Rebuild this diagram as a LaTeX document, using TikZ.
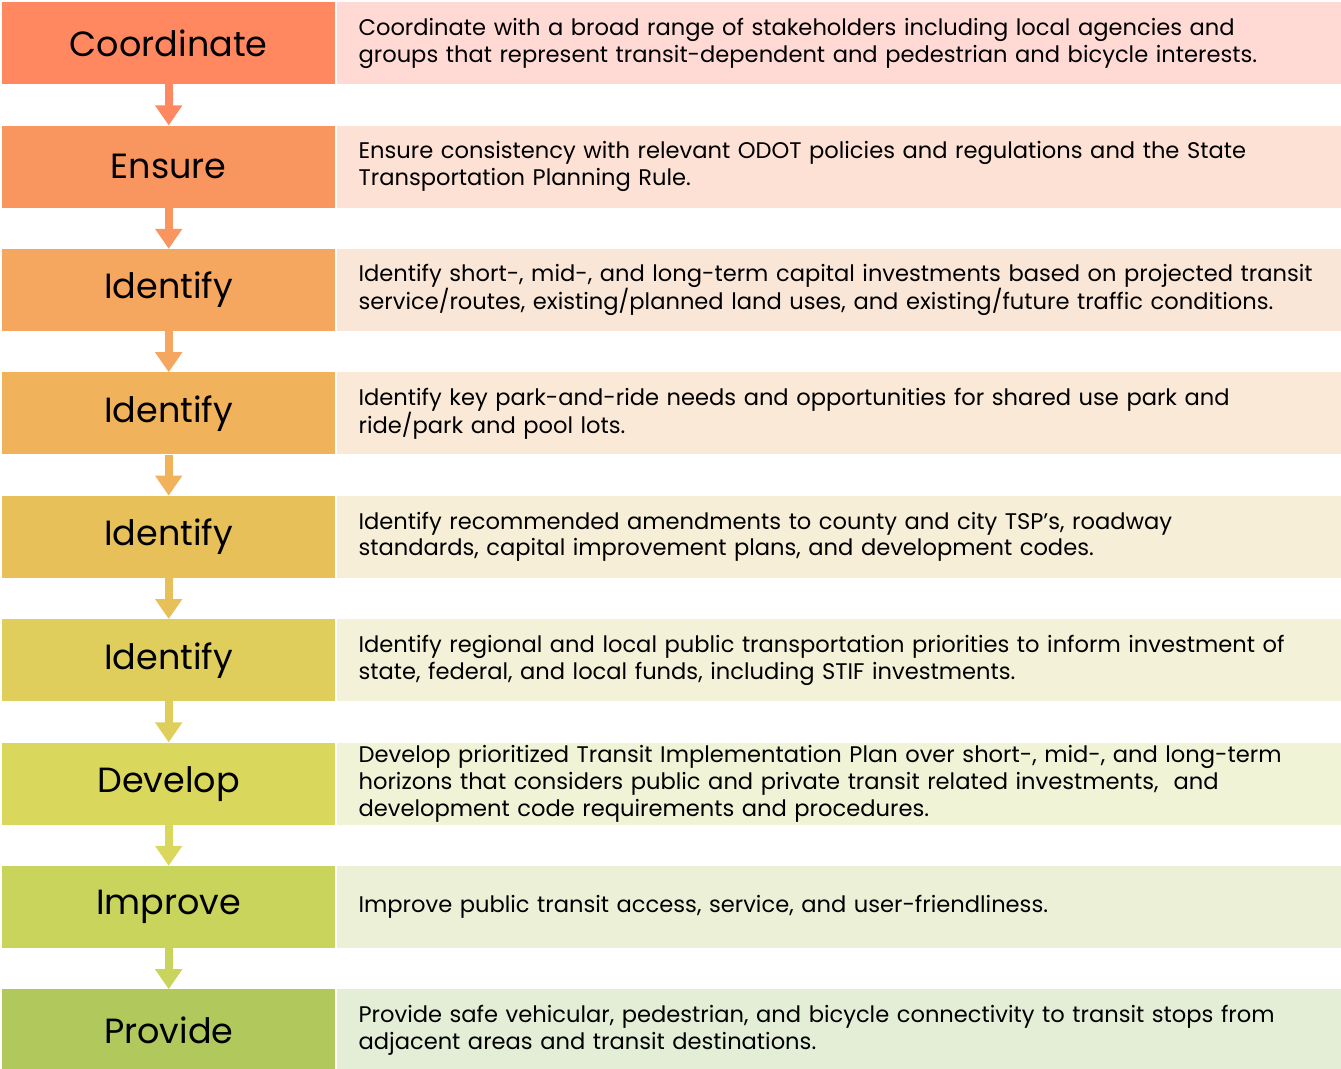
\documentclass[tikz,border=0pt]{standalone}
\usepackage{fontspec}
\setmainfont{Poppins}
\usetikzlibrary{positioning, arrows.meta}

\definecolor{stepA}{RGB}{255,136,97}
\definecolor{stepB}{RGB}{249,150,95}
\definecolor{stepC}{RGB}{245,166,95}
\definecolor{stepD}{RGB}{240,178,90}
\definecolor{stepE}{RGB}{232,192,90}
\definecolor{stepF}{RGB}{224,206,92}
\definecolor{stepG}{RGB}{218,216,92}
\definecolor{stepH}{RGB}{200,212,92}
\definecolor{stepI}{RGB}{176,200,92}
\definecolor{textA}{RGB}{255,218,213}
\definecolor{textB}{RGB}{252,225,212}
\definecolor{textC}{RGB}{250,230,215}
\definecolor{textD}{RGB}{250,233,215}
\definecolor{textE}{RGB}{246,238,215}
\definecolor{textF}{RGB}{243,241,215}
\definecolor{textG}{RGB}{240,243,213}
\definecolor{textH}{RGB}{236,240,214}
\definecolor{textI}{RGB}{228,237,213}

\begin{document}
\begin{tikzpicture}[
	stepbox/.style={rectangle, inner sep=0pt, minimum width=333pt, minimum height=82pt, font=\fontsize{35}{40}\selectfont},
	descbox/.style={rectangle, inner xsep=22pt, inner ysep=0pt, text width=961pt, minimum height=82pt, align=left, font=\fontsize{22.6}{26.8}\selectfont},
	flow/.style={line width=8pt, -{Triangle[width=26pt, length=20pt]}},
	>=LaTeX
]
\useasboundingbox (0,0) rectangle (1341pt,-1068pt);

\node[stepbox, fill=stepA, anchor=north west] (coordinate) at (2pt,-2pt) {Coordinate};
\node[stepbox, fill=stepB, below=41pt of coordinate] (ensure) {Ensure};
\node[stepbox, fill=stepC, below=41pt of ensure] (identify_a) {Identify};
\node[stepbox, fill=stepD, below=41pt of identify_a] (identify_b) {Identify};
\node[stepbox, fill=stepE, below=41pt of identify_b] (identify_c) {Identify};
\node[stepbox, fill=stepF, below=41pt of identify_c] (identify_d) {Identify};
\node[stepbox, fill=stepG, below=41pt of identify_d] (develop) {Develop};
\node[stepbox, fill=stepH, below=41pt of develop] (improve) {Improve};
\node[stepbox, fill=stepI, below=41pt of improve] (provide) {Provide};

\node[descbox, fill=textA, right=1pt of coordinate] (coordinate_text) {Coordinate with a broad range of stakeholders including local agencies and\\ groups that represent transit-dependent and pedestrian and bicycle interests.};
\node[descbox, fill=textB, right=1pt of ensure] (ensure_text) {Ensure consistency with relevant ODOT policies and regulations and the State\\ Transportation Planning Rule.};
\node[descbox, fill=textC, right=1pt of identify_a] (identify_a_text) {Identify short-, mid-, and long-term capital investments based on projected transit\\ service/routes, existing/planned land uses, and existing/future traffic conditions.};
\node[descbox, fill=textD, right=1pt of identify_b] (identify_b_text) {Identify key park-and-ride needs and opportunities for shared use park and\\ ride/park and pool lots.};
\node[descbox, fill=textE, right=1pt of identify_c] (identify_c_text) {Identify recommended amendments to county and city TSP’s, roadway\\ standards, capital improvement plans, and development codes.};
\node[descbox, fill=textF, right=1pt of identify_d] (identify_d_text) {Identify regional and local public transportation priorities to inform investment of\\ state, federal, and local funds, including STIF investments.};
\node[descbox, fill=textG, right=1pt of develop] (develop_text) {Develop prioritized Transit Implementation Plan over short-, mid-, and long-term\\ horizons that considers public and private transit related investments,~ and\\ development code requirements and procedures.};
\node[descbox, fill=textH, right=1pt of improve] (improve_text) {Improve public transit access, service, and user-friendliness.};
\node[descbox, fill=textI, right=1pt of provide] (provide_text) {Provide safe vehicular, pedestrian, and bicycle connectivity to transit stops from\\ adjacent areas and transit destinations.};

\draw[flow, stepA] (coordinate) -- (ensure);
\draw[flow, stepB] (ensure) -- (identify_a);
\draw[flow, stepC] (identify_a) -- (identify_b);
\draw[flow, stepD] (identify_b) -- (identify_c);
\draw[flow, stepE] (identify_c) -- (identify_d);
\draw[flow, stepF] (identify_d) -- (develop);
\draw[flow, stepG] (develop) -- (improve);
\draw[flow, stepH] (improve) -- (provide);

\end{tikzpicture}
\end{document}
